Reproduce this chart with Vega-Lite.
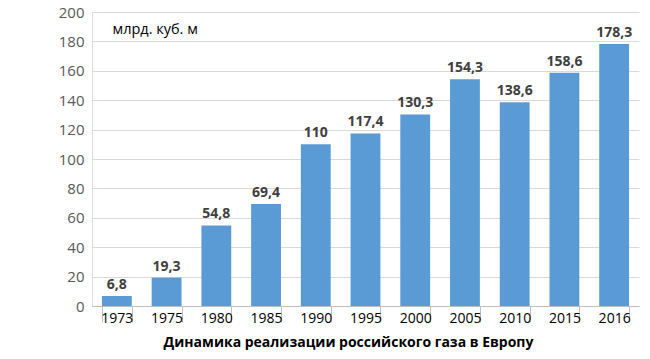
{
  "$schema": "https://vega.github.io/schema/vega-lite/v6.json",
  "width": 547,
  "height": 294,
  "autosize": {"type": "none"},
  "padding": {"left": 92, "top": 12, "right": 11, "bottom": 53},
  "background": "white",
  "config": {"view": {"stroke": null}, "font": "Open Sans"},
  "data": {"values": [
    {"year": "1973", "value": 6.8, "label": "6,8"},
    {"year": "1975", "value": 19.3, "label": "19,3"},
    {"year": "1980", "value": 54.8, "label": "54,8"},
    {"year": "1985", "value": 69.4, "label": "69,4"},
    {"year": "1990", "value": 110, "label": "110"},
    {"year": "1995", "value": 117.4, "label": "117,4"},
    {"year": "2000", "value": 130.3, "label": "130,3"},
    {"year": "2005", "value": 154.3, "label": "154,3"},
    {"year": "2010", "value": 138.6, "label": "138,6"},
    {"year": "2015", "value": 158.6, "label": "158,6"},
    {"year": "2016", "value": 178.3, "label": "178,3"}
  ]},
  "encoding": {
    "x": {
      "field": "year", "type": "nominal", "sort": null,
      "scale": {"paddingInner": 0.4, "paddingOuter": 0.2},
      "axis": {
        "title": "Динамика реализации российского газа в Европу",
        "titleFont": "Open Sans", "titleFontSize": 14, "titleFontWeight": "bold", "titleColor": "#000000",
        "titleX": 256, "titleY": 40, "titleBaseline": "alphabetic",
        "labelAngle": 0, "labelFont": "Open Sans", "labelFontSize": 14, "labelColor": "#000000",
        "labelPadding": -11, "labelBaseline": "top",
        "tickBand": "extent", "tickSize": 16, "tickColor": "#BFBFBF",
        "domainColor": "#BFBFBF", "grid": false
      }
    },
    "y": {
      "field": "value", "type": "quantitative",
      "scale": {"domain": [0, 200], "nice": false},
      "axis": {
        "values": [0, 20, 40, 60, 80, 100, 120, 140, 160, 180, 200],
        "title": "млрд. куб. м", "titleAngle": 0, "titleX": 20, "titleY": 21,
        "titleAlign": "left", "titleBaseline": "alphabetic",
        "titleFont": "Open Sans", "titleFontSize": 14.5, "titleFontWeight": "normal", "titleColor": "#000000",
        "labelFont": "Open Sans", "labelFontSize": 15, "labelColor": "#595959", "labelPadding": 8,
        "ticks": false, "domain": true, "domainColor": "#D9D9D9",
        "gridColor": "#D9D9D9", "gridWidth": 1
      }
    }
  },
  "layer": [
    {"mark": {"type": "bar", "color": "#5B9BD5"}},
    {
      "mark": {"type": "text", "dy": -11, "fontWeight": "bold", "fontSize": 14, "color": "#404040", "font": "Open Sans"},
      "encoding": {"text": {"field": "label"}}
    }
  ]
}
